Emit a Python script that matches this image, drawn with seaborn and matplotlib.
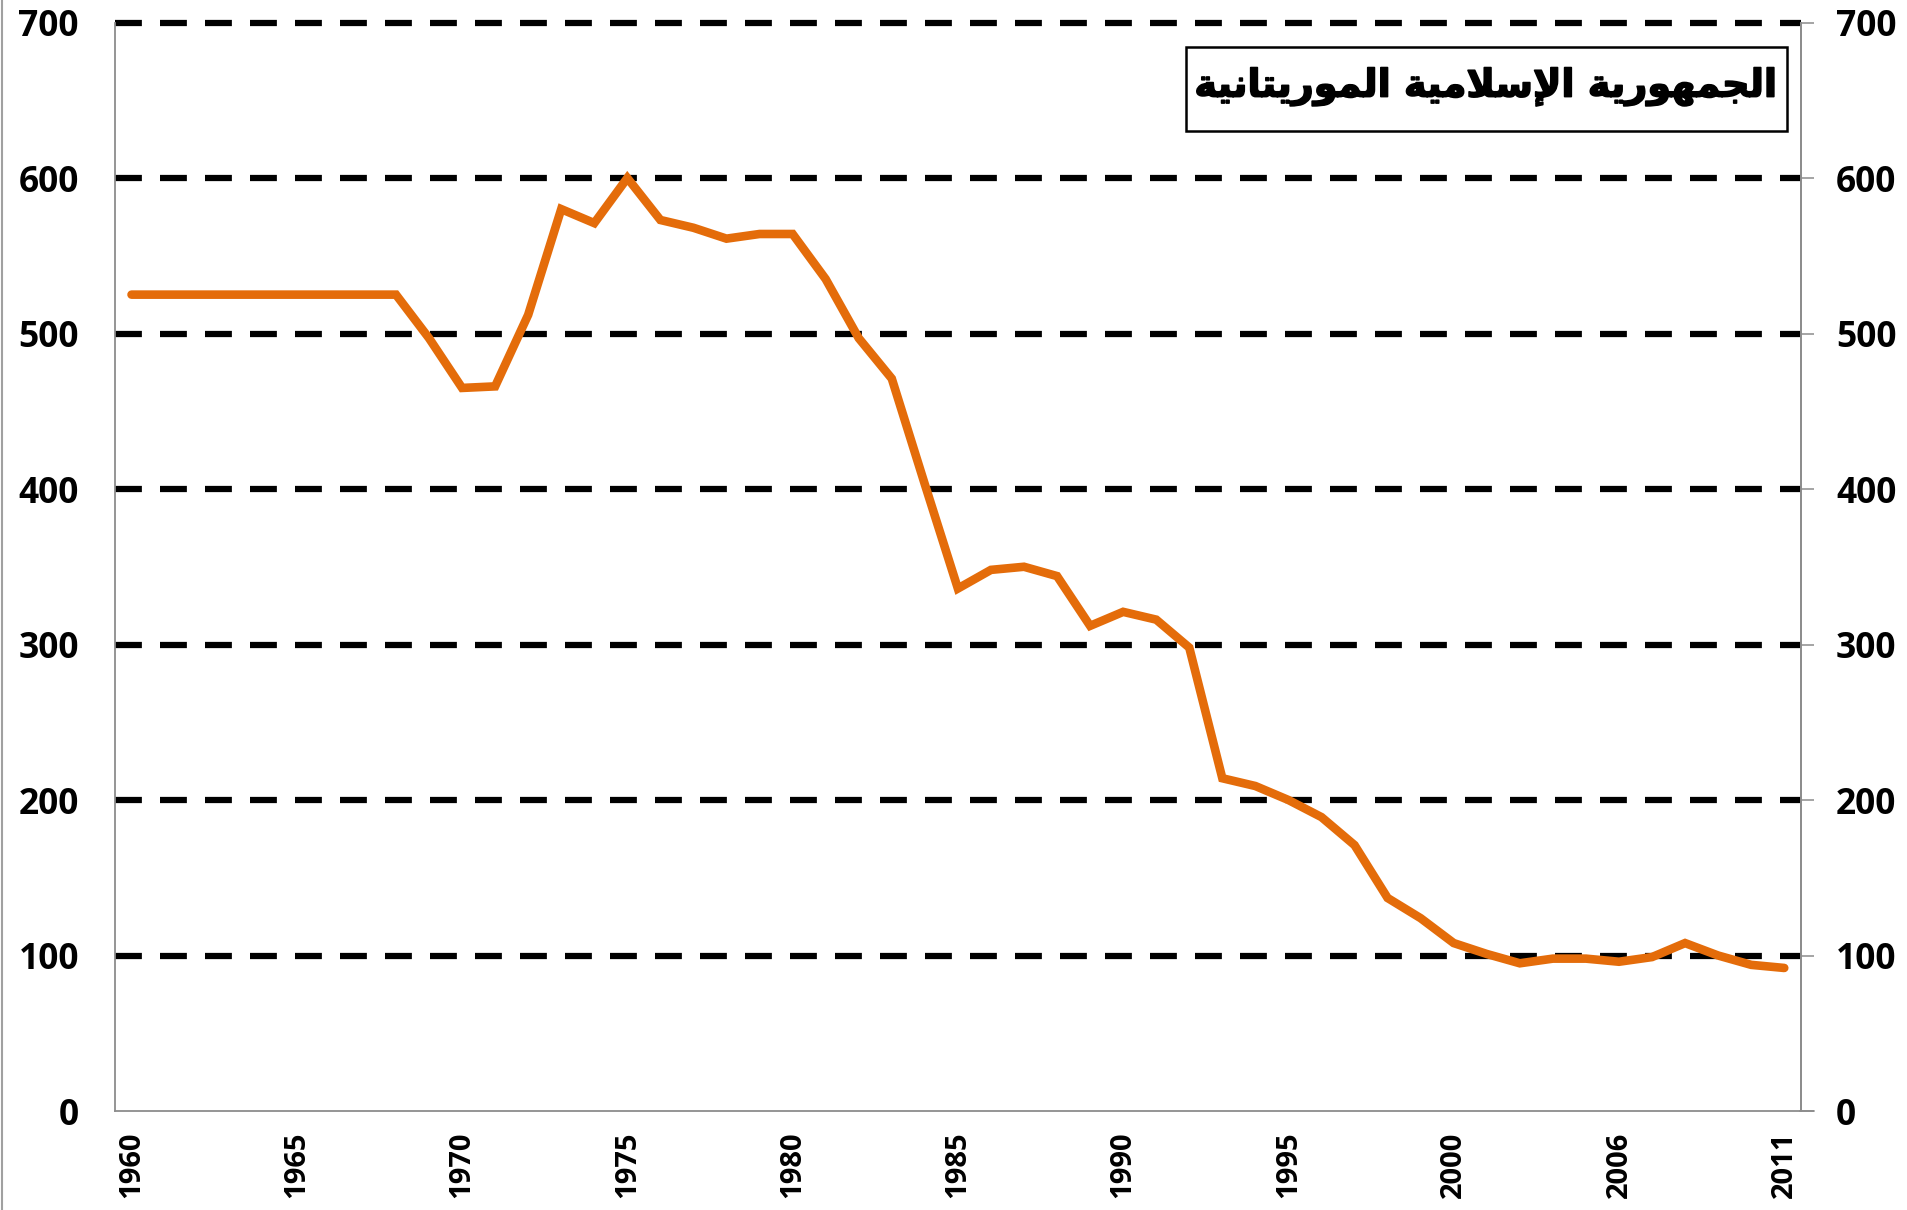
#!/usr/bin/env python3
"""Line chart: Mauritania series 1960-2011
"""

import numpy as np
import pandas as pd
import matplotlib
matplotlib.use("Agg")
import matplotlib.pyplot as plt
import matplotlib.patheffects as pe
from matplotlib.lines import Line2D
from matplotlib.patches import Rectangle
import seaborn as sns


years = list(range(1960, 2001)) + list(range(2002, 2012))
values = [525, 525, 525, 525, 525, 525, 525, 525, 525, 497,
          465, 466, 512, 580, 571, 600, 573, 568, 561, 564,
          564, 535, 497, 471, 403, 336, 348, 350, 344, 312,
          321, 316, 298, 214, 209, 200, 189, 171, 137, 124,
          108, 101, 95, 98, 98, 96, 99, 108, 100, 94,
          92]
y_ticks = [0, 100, 200, 300, 400, 500, 600, 700]

# title in Arabic presentation forms (logical order), reversed for LTR drawing
title_logical = ("\uFE8D\uFEDF\uFEA0\uFEE4\uFEEC\uFEEE\uFEAD\uFEF3\uFE94 "
                 "\uFE8D\uFEF9\uFEB3\uFEFC\uFEE3\uFEF4\uFE94 "
                 "\uFE8D\uFEDF\uFEE4\uFEEE\uFEAD\uFEF3\uFE98\uFE8E\uFEE7\uFEF4\uFE94")
title_text = title_logical[::-1]

LINE_COLOR = "#E46C0A"
GRAY = "#8c8c8c"


def main():
    sns.set_style("white")
    plt.rcParams['font.family'] = ['Open Sans', 'DejaVu Sans']
    plt.rcParams['font.weight'] = 'bold'
    plt.rcParams['text.color'] = 'black'
    plt.rcParams['xtick.labelcolor'] = 'black'
    plt.rcParams['ytick.labelcolor'] = 'black'

    df = pd.DataFrame({'pos': np.arange(len(years)), 'value': values})

    fig = plt.figure(figsize=(19.07, 12.10), dpi=100)
    ax = fig.add_axes([0.0603, 0.0818, 0.8840, 0.8996])

    sns.lineplot(data=df, x='pos', y='value', ax=ax, color=LINE_COLOR,
                 lw=6.2, solid_capstyle='round', solid_joinstyle='miter')

    ax.set_xlim(-0.5, len(years) - 0.5)
    ax.set_ylim(0, 700)
    ax.set_xlabel('')
    ax.set_ylabel('')

    ax.set_xticks(range(0, len(years), 5))
    ax.set_xticklabels([str(y) for y in years[::5]], rotation=90,
                       fontsize=21, fontweight='bold')
    ax.set_yticks(y_ticks)
    ax.set_yticklabels([str(v) for v in y_ticks], fontsize=25.5, fontweight='bold')
    ax.tick_params(axis='x', length=0, pad=15, labelcolor='black')
    ax.tick_params(axis='y', length=0, pad=26, labelcolor='black')

    ax.set_axisbelow(True)
    ax.grid(axis='y', color='black', lw=4.5, linestyle=(0, (4.3, 2.9)))
    ax.grid(axis='x', visible=False)
    for i, gl in enumerate(ax.get_ygridlines()):
        gl.set_clip_on(False)
        gl.set_dash_capstyle('butt')
        if i == 0:
            gl.set_visible(False)

    for side in ['left', 'bottom', 'right']:
        ax.spines[side].set_color(GRAY)
        ax.spines[side].set_linewidth(1.3)
    ax.spines['top'].set_visible(False)

    ax2 = ax.twinx()
    ax2.set_ylim(0, 700)
    ax2.set_yticks(y_ticks)
    ax2.set_yticklabels([str(v) for v in y_ticks], fontsize=25.5, fontweight='bold')
    ax2.tick_params(axis='y', length=9.4, width=1.1, color=GRAY, pad=16,
                    labelcolor='black')
    for side in ['left', 'bottom', 'top']:
        ax2.spines[side].set_visible(False)
    ax2.spines['right'].set_color(GRAY)
    ax2.spines['right'].set_linewidth(1.3)

    # bottom axis continues a little past the right axis
    fig.add_artist(Line2D([0.944, 0.951], [0.0818, 0.0818], color=GRAY, lw=1.3))

    # title box
    box_l, box_r = 1186 / 1907, 1787 / 1907
    box_t, box_b = 1 - 47 / 1210, 1 - 131 / 1210
    fig.add_artist(Rectangle((box_l, box_b), box_r - box_l, box_t - box_b,
                             transform=fig.transFigure, fill=True, facecolor='white',
                             edgecolor='black', lw=1.8, zorder=5))
    fig.text((box_l + box_r) / 2, (box_t + box_b) / 2 + 0.002, title_text,
             family=['DejaVu Sans'], fontweight='bold', fontsize=27.5,
             color='black', ha='center', va='center', zorder=6,
             path_effects=[pe.withStroke(linewidth=1.2, foreground='black')])

    # outer frame edge on the left
    fig.add_artist(Line2D([0.001, 0.001], [0, 1], color='#a0a0a0', lw=1.5))

    fig.savefig('out.png', dpi=100)


if __name__ == '__main__':
    main()
